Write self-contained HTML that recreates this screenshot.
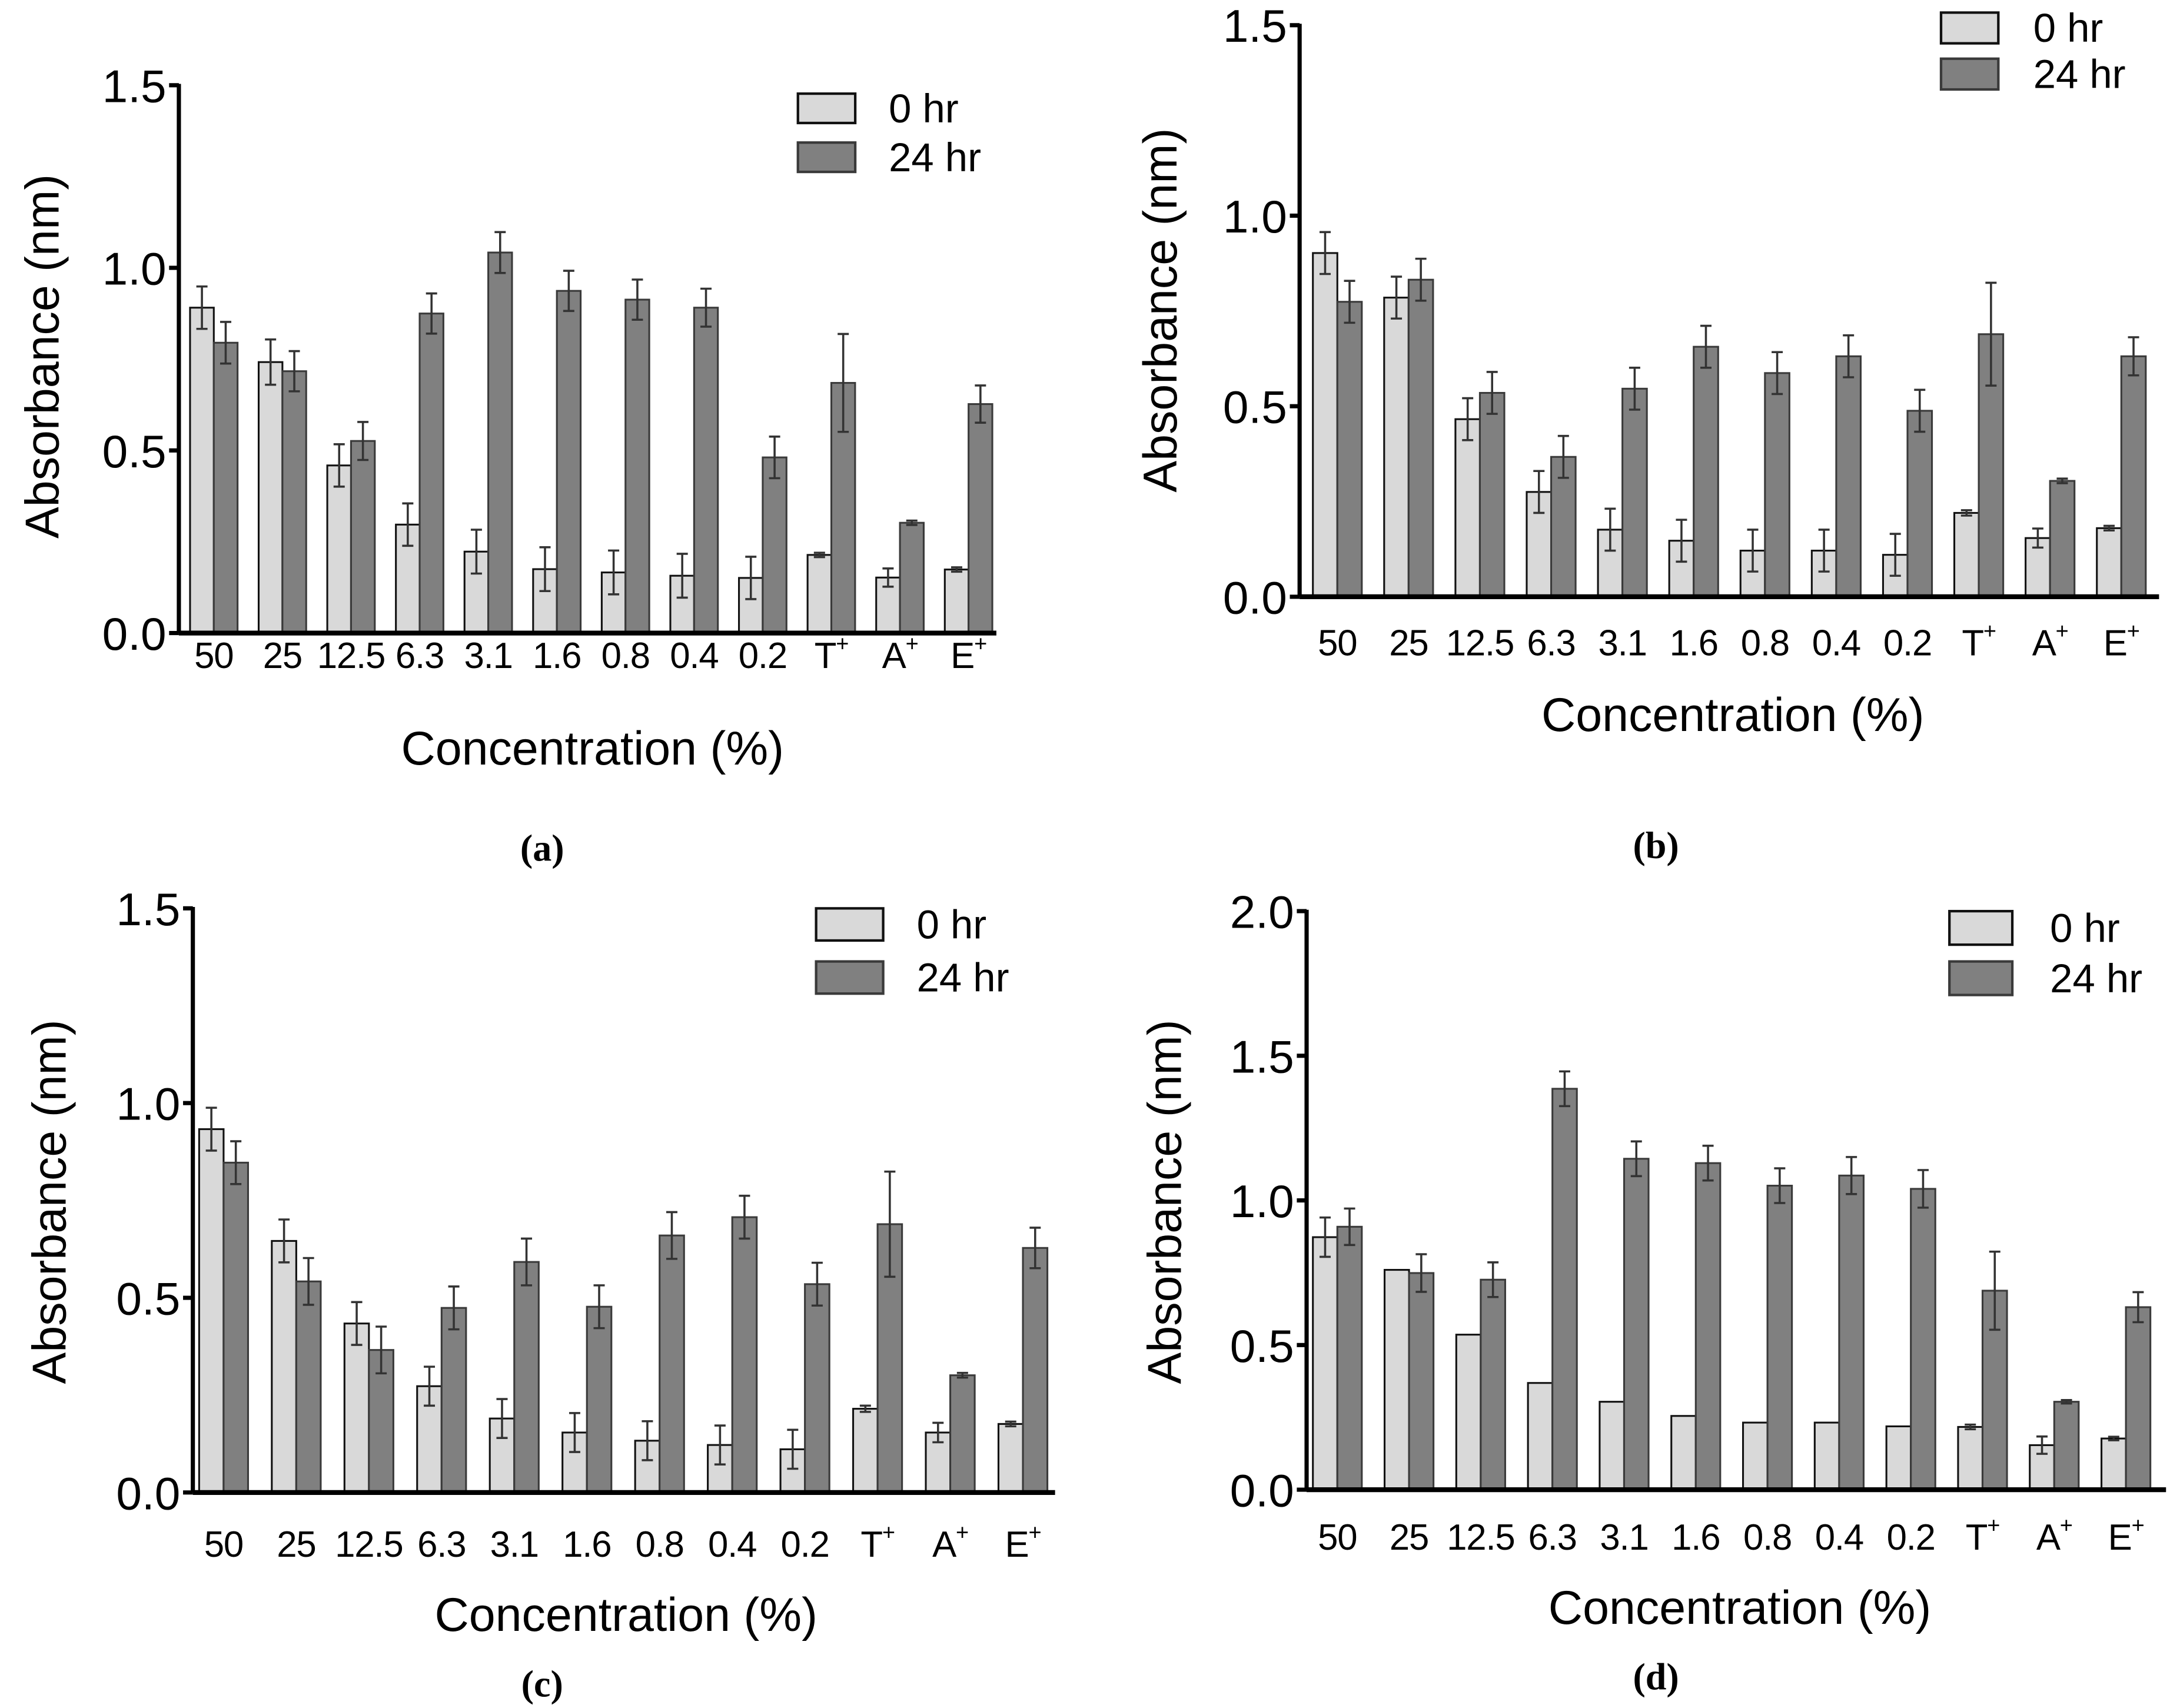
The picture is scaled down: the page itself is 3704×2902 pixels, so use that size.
<!DOCTYPE html>
<html><head><meta charset="utf-8"><style>html,body{margin:0;padding:0;background:#fff}svg{display:block}</style></head>
<body>
<svg id="fig" xmlns="http://www.w3.org/2000/svg" width="3704" height="2902" viewBox="0 0 1560 1222.2" font-family="Liberation Sans, sans-serif"></svg>
<script>
const categories = ["50","25","12.5","6.3","3.1","1.6","0.8","0.4","0.2","T","A","E"];
const seriesNames = ["0 hr","24 hr"];
const aLight = [0.891,0.742,0.459,0.297,0.223,0.175,0.166,0.157,0.151,0.214,0.152,0.174];
const aLightErr = [0.058,0.062,0.058,0.058,0.06,0.06,0.06,0.06,0.058,0.006,0.025,0.006];
const aDark = [0.795,0.717,0.526,0.875,1.042,0.937,0.913,0.891,0.481,0.685,0.302,0.627];
const aDarkErr = [0.057,0.055,0.052,0.055,0.056,0.055,0.055,0.052,0.057,0.134,0.006,0.051];
const bLight = [0.902,0.785,0.466,0.275,0.176,0.147,0.121,0.121,0.11,0.22,0.154,0.18];
const bLightErr = [0.055,0.055,0.055,0.055,0.055,0.055,0.055,0.055,0.055,0.007,0.025,0.006];
const bDark = [0.774,0.832,0.535,0.367,0.546,0.656,0.587,0.631,0.488,0.689,0.304,0.631];
const bDarkErr = [0.055,0.055,0.055,0.055,0.055,0.055,0.055,0.055,0.055,0.135,0.006,0.05];
const cLight = [0.933,0.646,0.434,0.273,0.19,0.154,0.133,0.122,0.111,0.215,0.154,0.176];
const cLightErr = [0.055,0.055,0.055,0.05,0.05,0.05,0.05,0.05,0.05,0.008,0.025,0.006];
const cDark = [0.847,0.542,0.366,0.474,0.592,0.477,0.66,0.707,0.535,0.689,0.301,0.628];
const cDarkErr = [0.055,0.06,0.06,0.055,0.06,0.055,0.06,0.055,0.055,0.135,0.006,0.052];
const dLight = [0.873,0.76,0.536,0.369,0.304,0.255,0.232,0.232,0.219,0.217,0.154,0.177];
const dLightErr = [0.068,0,0,0,0,0,0,0,0,0.008,0.03,0.006];
const dDark = [0.909,0.749,0.726,1.386,1.144,1.129,1.051,1.086,1.04,0.688,0.304,0.631];
const dDarkErr = [0.063,0.065,0.06,0.06,0.06,0.06,0.06,0.064,0.065,0.135,0.006,0.052];
const ticks15 = ["0.0","0.5","1.0","1.5"];
const ticks20 = ["0.0","0.5","1.0","1.5","2.0"];

const NS="http://www.w3.org/2000/svg";
const svg=document.getElementById('fig');
function mk(tag,attrs,parent,text){const e=document.createElementNS(NS,tag);for(const k in attrs)e.setAttribute(k,attrs[k]);if(text!==undefined)e.textContent=text;(parent||svg).appendChild(e);return e;}

const panels=[
 {id:'a',light:aLight,le:aLightErr,dark:aDark,de:aDarkErr,ticks:ticks15,max:1.5,ax:128,y0:453,yt:61,xe:713,g0:153,sp:49.1,bw:17,catY:478,titleX:424,titleY:547,ytX:42,ytY:255,capX:388,capY:616,lx:571,ly1:67,ly2:102,lw:41,lh:21,ltx:636},
 {id:'b',light:bLight,le:bLightErr,dark:bDark,de:bDarkErr,ticks:ticks15,max:1.5,ax:930,y0:427,yt:18,xe:1545,g0:957,sp:51,bw:17.5,catY:469,titleX:1240,titleY:523,ytX:842,ytY:222,capX:1185,capY:614,lx:1389,ly1:9,ly2:42,lw:41,lh:22,ltx:1455},
 {id:'c',light:cLight,le:cLightErr,dark:cDark,de:cDarkErr,ticks:ticks15,max:1.5,ax:138,y0:1068,yt:650,xe:755,g0:160,sp:52,bw:17.5,catY:1114,titleX:448,titleY:1167,ytX:47,ytY:860,capX:388,capY:1214,lx:584,ly1:650,ly2:688,lw:48,lh:23,ltx:656},
 {id:'d',light:dLight,le:dLightErr,dark:dDark,de:dDarkErr,ticks:ticks20,max:2.0,ax:935,y0:1066,yt:652,xe:1550,g0:957,sp:51.3,bw:17.5,catY:1109,titleX:1245,titleY:1162,ytX:845,ytY:860,capX:1185,capY:1209,lx:1395,ly1:652,ly2:688,lw:45,lh:24,ltx:1467}
];

panels.forEach(p=>{
 const g=mk('g',{});
 
 
 const yS=v=>p.y0-(v/p.max)*(p.y0-p.yt);
 const xS=i=>p.g0+i*p.sp;
 for(let i=0;i<categories.length;i++){
  const cx=xS(i);
  [[p.light,p.le,cx-p.bw,'#d9d9d9','#111','light'],[p.dark,p.de,cx,'#808080','#3a3a3a','dark']].forEach(s=>{
   const v=s[0][i],e=s[1][i];
   const r=mk('rect',{x:s[2],y:yS(v),width:p.bw,height:p.y0-yS(v),fill:s[3],stroke:s[4],'stroke-width':1.3},g);
   
   
   if(e>0){
    const mx=s[2]+p.bw/2;
    const eg=mk('g',{stroke:'#333','stroke-width':1.5},g);
    
    
    mk('line',{x1:mx,x2:mx,y1:yS(v+e),y2:yS(v-e)},eg);
    mk('line',{x1:mx-4,x2:mx+4,y1:yS(v+e),y2:yS(v+e)},eg);
    mk('line',{x1:mx-4,x2:mx+4,y1:yS(v-e),y2:yS(v-e)},eg);
   }
  });
  const lab=categories[i];
  const t=mk('text',{x:cx,y:p.catY,'font-size':26,'text-anchor':'middle','letter-spacing':'-0.5'},g,lab);
  if(['T','A','E'].includes(lab)){mk('tspan',{'font-size':16,dy:-12},t,'+');}
  
  
 }
 const ya=mk('line',{x1:p.ax,x2:p.ax,y1:p.yt-1,y2:p.y0,stroke:'#000','stroke-width':3},g);
 
 
 const xa=mk('line',{x1:p.ax,x2:p.xe,y1:p.y0,y2:p.y0,stroke:'#000','stroke-width':3.5},g);
 
 
 p.ticks.forEach(tk=>{
  const y=yS(parseFloat(tk));
  mk('line',{x1:p.ax-7,x2:p.ax,y1:y,y2:y,stroke:'#000','stroke-width':3},g);
  const t=mk('text',{x:p.ax-9,y:y+12,'font-size':33,'text-anchor':'end'},g,tk);
  
  
 });
 const xt=mk('text',{x:p.titleX,y:p.titleY,'font-size':34,'text-anchor':'middle'},g,'Concentration (%)');
 
 
 const yt=mk('text',{x:0,y:0,'font-size':34,'text-anchor':'middle',transform:`translate(${p.ytX},${p.ytY}) rotate(-90)`},g,'Absorbance (nm)');
 
 
 const cap=mk('text',{x:p.capX,y:p.capY,'font-size':27,'font-weight':'bold','text-anchor':'middle','font-family':'Liberation Serif, serif'},g,'('+p.id+')');
 
 
 const lg=mk('g',{},g);
 
 
 [[p.ly1,'#d9d9d9','#111',seriesNames[0]],[p.ly2,'#808080','#3a3a3a',seriesNames[1]]].forEach(L=>{
  const r=mk('rect',{x:p.lx,y:L[0],width:p.lw,height:p.lh,fill:L[1],stroke:L[2],'stroke-width':1.8},lg);
  
  
  const t=mk('text',{x:p.ltx,y:L[0]+p.lh/2+10,'font-size':29},lg,L[3]);
  
  
 });
});
</script>
</body></html>
